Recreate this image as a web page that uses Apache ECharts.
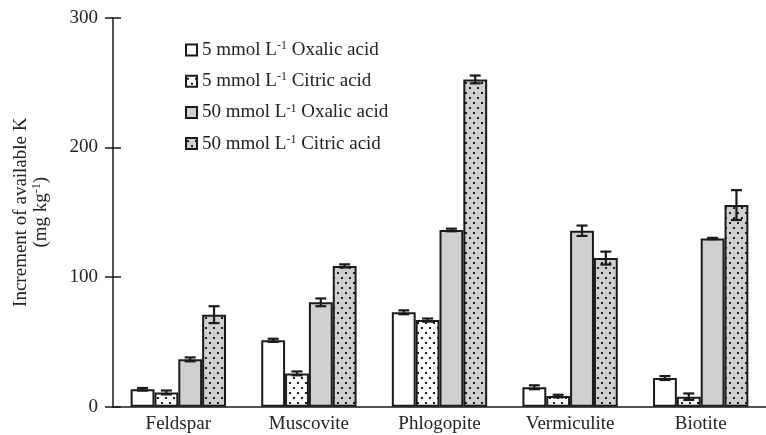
<!DOCTYPE html>
<html><head><meta charset="utf-8">
<script src="https://cdn.jsdelivr.net/npm/echarts@6/dist/echarts.min.js"></script>
<style>html,body{margin:0;padding:0;background:#fff}#c{width:766px;height:435px}</style>
</head><body><div id="c"></div>
<script>
const categories = ['Feldspar', 'Muscovite', 'Phlogopite', 'Vermiculite', 'Biotite'];
const seriesNames = ['5 mmol L-1 Oxalic acid', '5 mmol L-1 Citric acid', '50 mmol L-1 Oxalic acid', '50 mmol L-1 Citric acid'];
const oxalic5 = [13.4, 51.2, 72.8, 15.0, 22.1];
const citric5 = [11.0, 25.7, 66.8, 8.2, 7.7];
const oxalic50 = [36.5, 80.5, 136.3, 135.7, 129.7];
const citric50 = [71.0, 108.6, 252.4, 114.6, 155.5];
const oxalic5Err = [1.0, 1.2, 1.5, 1.5, 1.5];
const citric5Err = [1.5, 1.5, 1.2, 1.0, 2.5];
const oxalic50Err = [1.5, 3.0, 1.0, 4.0, 0.5];
const citric50Err = [6.5, 1.2, 3.0, 5.0, 11.5];
const yTicks = [0, 100, 200, 300];

const values = [oxalic5, citric5, oxalic50, citric50];
const errs = [oxalic5Err, citric5Err, oxalic50Err, citric50Err];

function dotPattern(bg) {
  const cv = document.createElement('canvas');
  cv.width = 8; cv.height = 10;
  const ctx = cv.getContext('2d');
  ctx.fillStyle = bg; ctx.fillRect(0, 0, 8, 10);
  ctx.fillStyle = '#1a1a1a';
  ctx.fillRect(1, 2, 2, 2);
  ctx.fillRect(5, 7, 2, 2);
  return { image: cv, repeat: 'repeat' };
}
const fills = ['#ffffff', dotPattern('#ffffff'), '#d0d0d0', dotPattern('#d0d0d0')];

const CAT_GAP = 0.27;
const FONT = 'Liberation Serif';

const chart = echarts.init(document.getElementById('c'), null, { renderer: 'canvas' });

const barSeries = values.map((v, i) => ({
  name: seriesNames[i],
  type: 'bar',
  data: v,
  barGap: '0%',
  barCategoryGap: (CAT_GAP * 100) + '%',
  itemStyle: { color: fills[i], borderColor: '#1a1a1a', borderWidth: 2 },
  emphasis: { disabled: true },
  z: 2
}));

const errSeries = values.map((v, i) => ({
  type: 'custom',
  name: 'err' + i,
  data: v.map((m, k) => [k, m, errs[i][k]]),
  z: 5,
  silent: true,
  renderItem: function (params, api) {
    const k = api.value(0), m = api.value(1), e = api.value(2);
    const band = api.size([1, 0])[0];
    const bw = band * (1 - CAT_GAP) / 4;
    const cx = api.coord([k, m])[0] + (i - 1.5) * bw;
    const yt = api.coord([k, m + e])[1];
    const yb = api.coord([k, m - e])[1];
    const cap = 5.5;
    const st = { stroke: '#1a1a1a', lineWidth: 2.2 };
    return {
      type: 'group',
      children: [
        { type: 'line', shape: { x1: cx, y1: yt, x2: cx, y2: yb }, style: st },
        { type: 'line', shape: { x1: cx - cap, y1: yt, x2: cx + cap, y2: yt }, style: st },
        { type: 'line', shape: { x1: cx - cap, y1: yb, x2: cx + cap, y2: yb }, style: st }
      ]
    };
  }
}));

const richBase = {
  n: { fontFamily: FONT, fontSize: 19, color: '#222', lineHeight: 20 },
  s: { fontFamily: FONT, fontSize: 12, color: '#222', lineHeight: 20, verticalAlign: 'top' }
};

chart.setOption({
  animation: false,
  backgroundColor: '#fff',
  grid: { left: 113, right: 0, top: 17.7, bottom: 28.3, containLabel: false },
  legend: {
    data: seriesNames,
    orient: 'vertical',
    left: 185,
    top: 40,
    padding: 0,
    itemWidth: 11,
    itemHeight: 11,
    itemGap: 11.7,
    selectedMode: false,
    icon: 'rect',
    formatter: function (name) {
      const p = name.split('L-1');
      return '{n|' + p[0] + 'L}{s|-1}{n|' + p[1] + '}';
    },
    textStyle: { fontFamily: FONT, fontSize: 19, color: '#222', rich: richBase }
  },
  xAxis: {
    type: 'category',
    data: categories,
    axisLine: { lineStyle: { color: '#1a1a1a', width: 1.5 } },
    axisTick: { show: false },
    axisLabel: { fontFamily: FONT, fontSize: 19, color: '#222', margin: 8 }
  },
  yAxis: [{
    type: 'value',
    min: 0, max: 300, interval: 100,
    splitLine: { show: false },
    axisLine: { show: true, lineStyle: { color: '#1a1a1a', width: 1.5 } },
    axisTick: { show: true, length: 8, lineStyle: { color: '#1a1a1a', width: 1.5 } },
    axisLabel: {
      fontFamily: FONT, fontSize: 19, color: '#222', margin: 15,
      formatter: v => yTicks.indexOf(v) >= 0 ? String(v) : ''
    },
    name: '{n|Increment of available K}\n{n|(mg kg}{s|-1}{n|)}',
    nameLocation: 'middle',
    nameRotate: 90,
    nameGap: 62,
    nameTextStyle: { fontFamily: FONT, fontSize: 19, color: '#222', align: 'center', rich: richBase }
  }, {
    type: 'value',
    min: 0, max: 300, interval: 100,
    position: 'left',
    splitLine: { show: false },
    axisLine: { show: false },
    axisTick: { show: true, inside: true, length: 8, lineStyle: { color: '#1a1a1a', width: 1.5 } },
    axisLabel: { show: false }
  }],
  series: barSeries.concat(errSeries)
});
</script></body></html>
